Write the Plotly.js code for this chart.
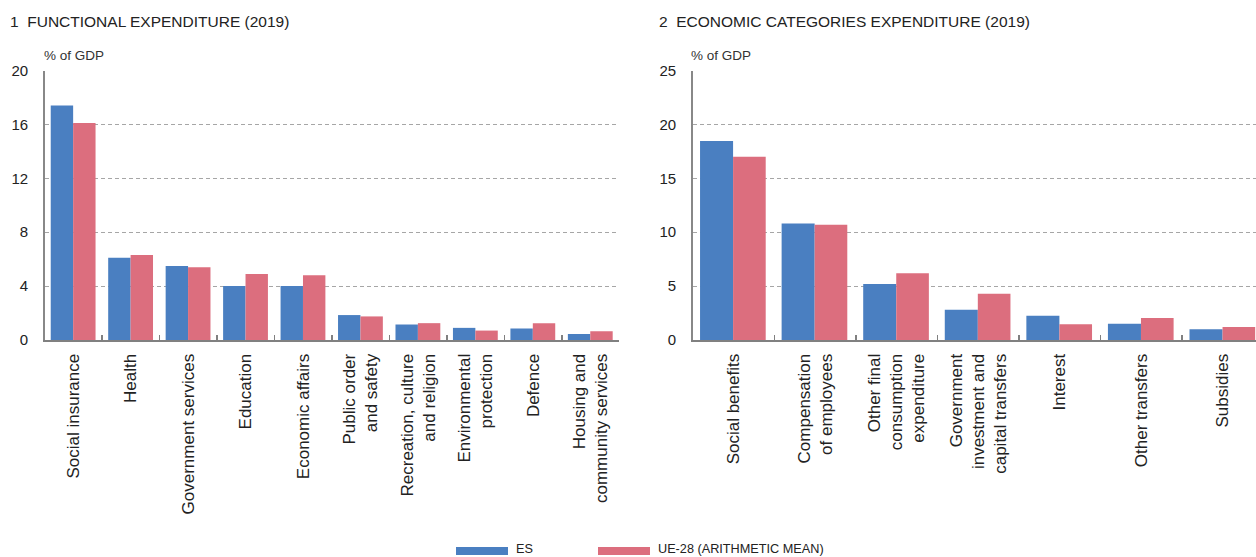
<!DOCTYPE html>
<html>
<head>
<meta charset="utf-8">
<script src="https://cdn.plot.ly/plotly-3.0.1.min.js"></script>
<style>
  html, body { margin: 0; padding: 0; background: #fff; overflow: hidden; }
  #chart { width: 1256px; height: 557px; }
</style>
</head>
<body>
<div id="chart"></div>
<script>
// ---- Data ----
const functionalCategories = [
  "Social insurance",
  "Health",
  "Government services",
  "Education",
  "Economic affairs",
  "Public order<br>and safety",
  "Recreation, culture<br>and religion",
  "Environmental<br>protection",
  "Defence",
  "Housing and<br>community services"
];
const functionalES = [17.4, 6.1, 5.5, 4.0, 4.0, 1.85, 1.15, 0.9, 0.85, 0.45];
const functionalUE = [16.1, 6.3, 5.4, 4.9, 4.8, 1.75, 1.25, 0.7, 1.25, 0.65];

const economicCategories = [
  "Social benefits",
  "Compensation<br>of employees",
  "Other final<br>consumption<br>expenditure",
  "Government<br>investment and<br>capital transfers",
  "Interest",
  "Other transfers",
  "Subsidies"
];
const economicES = [18.45, 10.8, 5.2, 2.8, 2.25, 1.5, 1.0];
const economicUE = [17.0, 10.7, 6.2, 4.3, 1.45, 2.05, 1.2];

const seriesNames = ["ES", "UE-28 (ARITHMETIC MEAN)"];
const panelTitles = ["1\u00a0\u00a0FUNCTIONAL EXPENDITURE (2019)", "2\u00a0\u00a0ECONOMIC CATEGORIES EXPENDITURE (2019)"];
const unitLabel = "% of GDP";

// ---- Styles ----
const BLUE = "#4a7fc1";
const PINK = "#dc6e7e";
const W = 1256, H = 557;
const px = x => x / W;
const py = y => (H - y) / H;
const FONT = "Liberation Sans, Arial, sans-serif";

const traces = [
  { type: "bar", x: functionalCategories, y: functionalES, name: seriesNames[0], xaxis: "x", yaxis: "y",
    marker: { color: BLUE }, width: 0.39, offset: -0.395, showlegend: false },
  { type: "bar", x: functionalCategories, y: functionalUE, name: seriesNames[1], xaxis: "x", yaxis: "y",
    marker: { color: PINK }, width: 0.39, offset: -0.005, showlegend: false },
  { type: "bar", x: economicCategories, y: economicES, name: seriesNames[0], xaxis: "x2", yaxis: "y2",
    marker: { color: BLUE }, width: 0.405, offset: -0.41, showlegend: false },
  { type: "bar", x: economicCategories, y: economicUE, name: seriesNames[1], xaxis: "x2", yaxis: "y2",
    marker: { color: PINK }, width: 0.4, offset: -0.005, showlegend: false }
];

const yTop = py(70.5), yBot = py(340);

const xCommon = {
  type: "category",
  showline: true, linecolor: "#808080", linewidth: 2,
  ticks: "inside", ticklen: 5, tickwidth: 1.5, tickcolor: "#808080",
  tickson: "boundaries",
  tickangle: -90,
  ticklabelstandoff: 5,
  tickfont: { family: FONT, size: 17, color: "#222" },
  showgrid: false, zeroline: false, fixedrange: true
};
const yCommon = {
  showline: true, linecolor: "#888", linewidth: 1.5,
  ticks: "", showgrid: true, gridcolor: "#a6a6a6", gridwidth: 1, griddash: "4px,3px",
  zeroline: false,
  tickfont: { family: FONT, size: 15, color: "#222" },
  ticklabelstandoff: 12, fixedrange: true
};

const layout = {
  width: W, height: H,
  margin: { l: 0, r: 0, t: 0, b: 0 },
  paper_bgcolor: "#fff", plot_bgcolor: "#fff",
  showlegend: false,
  barmode: "group",
  xaxis: Object.assign({}, xCommon, { domain: [px(44.7), px(619.3)], range: [-0.5, 9.5], anchor: "y" }),
  yaxis: Object.assign({}, yCommon, { domain: [yBot, yTop], range: [0, 20], dtick: 4, tick0: 0, anchor: "x" }),
  xaxis2: Object.assign({}, xCommon, { domain: [px(692.7), 1], range: [-0.5, 6.405], anchor: "y2" }),
  yaxis2: Object.assign({}, yCommon, { domain: [yBot, yTop], range: [0, 25], dtick: 5, tick0: 0, anchor: "x2" }),
  annotations: [
    { text: panelTitles[0], xref: "paper", yref: "paper", x: px(8), y: py(22), xanchor: "left", yanchor: "middle",
      showarrow: false, font: { family: FONT, size: 15.5, color: "#222" } },
    { text: panelTitles[1], xref: "paper", yref: "paper", x: px(657), y: py(22), xanchor: "left", yanchor: "middle",
      showarrow: false, font: { family: FONT, size: 15.5, color: "#222" } },
    { text: unitLabel, xref: "paper", yref: "paper", x: px(42), y: py(55), xanchor: "left", yanchor: "middle",
      showarrow: false, font: { family: FONT, size: 13.5, color: "#333" } },
    { text: unitLabel, xref: "paper", yref: "paper", x: px(689), y: py(55), xanchor: "left", yanchor: "middle",
      showarrow: false, font: { family: FONT, size: 13.5, color: "#333" } },
    { text: seriesNames[0], xref: "paper", yref: "paper", x: px(514), y: py(549), xanchor: "left", yanchor: "middle",
      showarrow: false, font: { family: FONT, size: 12.7, color: "#222" } },
    { text: seriesNames[1], xref: "paper", yref: "paper", x: px(656), y: py(549), xanchor: "left", yanchor: "middle",
      showarrow: false, font: { family: FONT, size: 12.7, color: "#222" } }
  ],
  shapes: [
    { type: "rect", xref: "paper", yref: "paper", x0: px(456), x1: px(508), y0: py(555), y1: py(547),
      fillcolor: BLUE, line: { width: 0 } },
    { type: "rect", xref: "paper", yref: "paper", x0: px(598), x1: px(650), y0: py(555), y1: py(547),
      fillcolor: PINK, line: { width: 0 } }
  ]
};

Plotly.newPlot("chart", traces, layout, { displayModeBar: false, staticPlot: true });
</script>
</body>
</html>
